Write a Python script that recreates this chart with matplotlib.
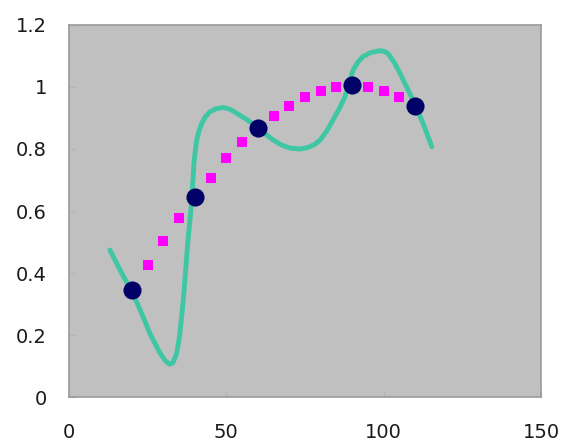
import matplotlib.pyplot as plt

# data
dot_x = [20, 40, 60, 90, 110]
dot_y = [0.345, 0.645, 0.867, 1.005, 0.94]

sq_x = [25, 30, 35, 40, 45, 50, 55, 60, 65, 70, 75, 80, 85, 90, 95, 100, 105]
sq_y = [0.426, 0.503, 0.578, 0.645, 0.707, 0.77, 0.822, 0.865, 0.907, 0.94,
        0.968, 0.988, 1.0, 1.006, 1.0, 0.987, 0.968]

curve_x = [13.0, 16.2, 20.5, 23.5, 25.7, 28.9, 30.6, 31.9, 33.0, 34.2, 35.1,
           35.8, 36.4, 36.9, 37.4, 37.9, 38.5, 39.0, 39.7, 40.2, 40.6, 41.3,
           42.2, 43.4, 44.8, 46.8, 49.0, 51.2, 53.3, 56.5, 59.6, 62.5, 64.9,
           67.5, 70.2, 73.4, 76.0, 78.0, 79.8, 81.9, 83.9, 85.9, 87.7, 89.0,
           90.3, 91.8, 93.4, 95.9, 98.8, 100.2, 101.4, 103.3, 105.2, 107.2,
           109.3, 110.9, 112.5, 115.3]
curve_y = [0.474, 0.41, 0.33, 0.26, 0.205, 0.142, 0.117, 0.106, 0.11, 0.14,
           0.195, 0.259, 0.323, 0.388, 0.452, 0.517, 0.577, 0.635, 0.755, 0.8,
           0.829, 0.858, 0.883, 0.905, 0.92, 0.930, 0.934, 0.928, 0.915, 0.895,
           0.872, 0.848, 0.829, 0.813, 0.803, 0.800, 0.805, 0.814, 0.829, 0.858,
           0.894, 0.93, 0.969, 1.012, 1.055, 1.08, 1.098, 1.111, 1.117, 1.115,
           1.108, 1.08, 1.044, 1.002, 0.958, 0.921, 0.883, 0.807]

xticks = [0, 50, 100, 150]
yticks = [0, 0.2, 0.4, 0.6, 0.8, 1.0, 1.2]
ytick_labels = ["0", "0.2", "0.4", "0.6", "0.8", "1", "1.2"]

fig = plt.figure(figsize=(5.67, 4.43), dpi=100)
ax = fig.add_axes([0.1217, 0.1038, 0.8325, 0.8398])
ax.set_facecolor('#c0c0c0')

ax.plot(curve_x, curve_y, color='#3fc7a4', lw=3.5, solid_joinstyle='round',
        solid_capstyle='round', zorder=2)
ax.scatter(sq_x, sq_y, marker='s', s=60, color='#ff00ff', linewidths=0, zorder=3)
ax.scatter(dot_x, dot_y, marker='o', s=170, color='#000066', linewidths=0, zorder=4)

ax.set_xlim(0, 150)
ax.set_ylim(0, 1.2)
ax.set_xticks(xticks)
ax.set_xticklabels([str(t) for t in xticks])
ax.set_yticks(yticks)
ax.set_yticklabels(ytick_labels)

for side in ['left', 'bottom', 'top', 'right']:
    ax.spines[side].set_color('#9a9a9a')
    ax.spines[side].set_linewidth(1.2)

ax.tick_params(axis='both', direction='in', length=4, color='#b4b4b4',
               labelsize=14, labelcolor='#1a1a1a')
ax.tick_params(axis='y', pad=16)
ax.tick_params(axis='x', pad=19)

fig.savefig('out.png', dpi=100)
